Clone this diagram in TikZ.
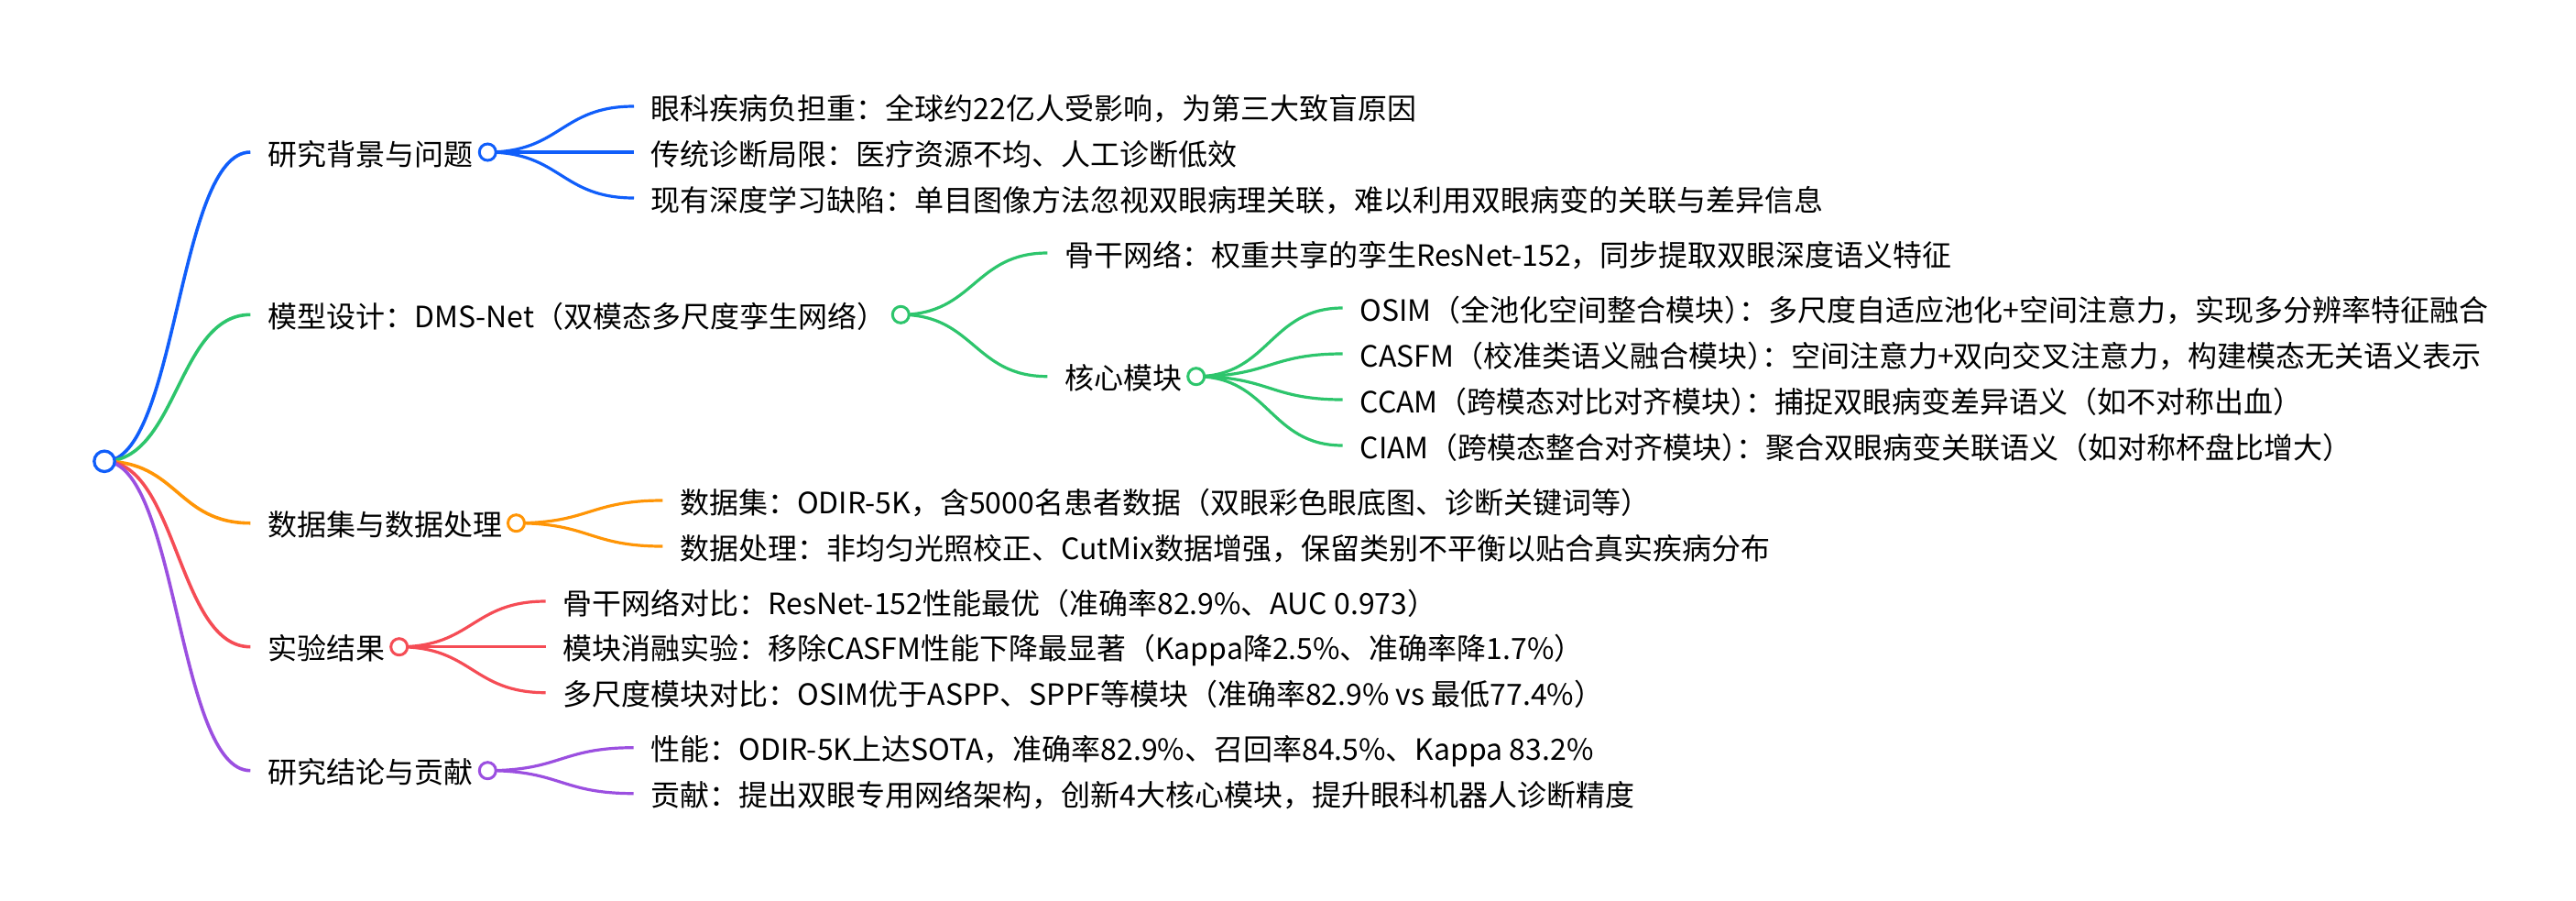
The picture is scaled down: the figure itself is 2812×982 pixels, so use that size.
\documentclass[tikz,border=0pt]{standalone}
\usepackage{fontspec}
\setmainfont{Noto Sans CJK SC}
\usetikzlibrary{calc,backgrounds}

\definecolor{cblue}{HTML}{105EFA}
\definecolor{cgreen}{HTML}{2DC56C}
\definecolor{corange}{HTML}{FF9506}
\definecolor{cred}{HTML}{F54C55}
\definecolor{cpurple}{HTML}{9B4FE0}

\newcommand{\pc}{）\kern-0.5em：}

\tikzset{
  topic/.style={anchor=west, inner xsep=9.25pt, inner ysep=0pt,
    text height=16pt, text depth=2pt, font=\fontsize{16pt}{19pt}\selectfont},
  knot/.style={circle, draw=#1, fill=white, line width=1.5pt,
    minimum size=9pt, inner sep=0pt},
  branch/.style={draw=#1, line width=1.6pt, to path={
    let \p1=(\tikztostart), \p2=(\tikztotarget) in
    .. controls ({(\x1+\x2)/2},\y1) and ({(\x1+\x2)/2},\y2) .. (\tikztotarget)}}
}

\begin{document}
\begin{tikzpicture}[x=0.5pt, y=-0.5pt]
    \useasboundingbox (0,0) rectangle (2812,982);

    \node[knot=cblue, minimum size=11.2pt, line width=1.65pt] (root) at (114,503.3) {};

    \node[topic] (bg) at (273.3,166) {研究背景与问题};
    \node[topic] (md) at (273.3,343.3) {模型设计：DMS-Net（双模态多尺度孪生网络）};
    \node[topic] (ds) at (273.3,570.7) {数据集与数据处理};
    \node[topic] (ex) at (273.3,705.7) {实验结果};
    \node[topic] (cc) at (273.3,840.7) {研究结论与贡献};

    \node[knot=cblue] (bgk) at (532.3,166) {};
    \node[knot=cgreen] (mdk) at (983.3,343.3) {};
    \node[knot=corange] (dsk) at (563.5,570.7) {};
    \node[knot=cred] (exk) at (435.7,705.7) {};
    \node[knot=cpurple] (cck) at (532.3,840.7) {};

    \node[topic] (bg1) at (692,116) {眼科疾病负担重：全球约22亿人受影响，为第三大致盲原因};
    \node[topic] (bg2) at (692,166) {传统诊断局限：医疗资源不均、人工诊断低效};
    \node[topic] (bg3) at (692,216) {现有深度学习缺陷：单目图像方法忽视双眼病理关联，难以利用双眼病变的关联与差异信息};

    \node[topic] (md1) at (1143.3,276) {骨干网络：权重共享的孪生ResNet-152，同步提取双眼深度语义特征};
    \node[topic] (md2) at (1143.3,410.7) {核心模块};
    \node[knot=cgreen] (md2k) at (1305.7,410.7) {};

    \node[topic] (core1) at (1465.7,336) {OSIM（全池化空间整合模块\pc 多尺度自适应池化+空间注意力，实现多分辨率特征融合};
    \node[topic] (core2) at (1465.7,386) {CASFM（校准类语义融合模块\pc 空间注意力+双向交叉注意力，构建模态无关语义表示};
    \node[topic] (core3) at (1465.7,436) {CCAM（跨模态对比对齐模块\pc 捕捉双眼病变差异语义（如不对称出血）};
    \node[topic] (core4) at (1465.7,486) {CIAM（跨模态整合对齐模块\pc 聚合双眼病变关联语义（如对称杯盘比增大）};

    \node[topic] (ds1) at (723.3,546) {数据集：ODIR-5K，含5000名患者数据（双眼彩色眼底图、诊断关键词等）};
    \node[topic] (ds2) at (723.3,596) {数据处理：非均匀光照校正、CutMix数据增强，保留类别不平衡以贴合真实疾病分布};

    \node[topic] (ex1) at (595.7,656) {骨干网络对比：ResNet-152性能最优（准确率82.9\%、AUC 0.973）};
    \node[topic] (ex2) at (595.7,705.7) {模块消融实验：移除CASFM性能下降最显著（Kappa降2.5\%、准确率降1.7\%）};
    \node[topic] (ex3) at (595.7,755.7) {多尺度模块对比：OSIM优于ASPP、SPPF等模块（准确率82.9\% vs 最低77.4\%）};

    \node[topic] (cc1) at (691.7,815.7) {性能：ODIR-5K上达SOTA，准确率82.9\%、召回率84.5\%、Kappa 83.2\%};
    \node[topic] (cc2) at (691.7,865.7) {贡献：提出双眼专用网络架构，创新4大核心模块，提升眼科机器人诊断精度};

    \begin{scope}[on background layer]
    \draw[branch=cblue, line width=1.8pt] (root.center) to (bg.west);
    \draw[branch=cgreen, line width=1.8pt] (root.center) to (md.west);
    \draw[branch=corange, line width=1.8pt] (root.center) to (ds.west);
    \draw[branch=cred, line width=1.8pt] (root.center) to (ex.west);
    \draw[branch=cpurple, line width=1.8pt] (root.center) to (cc.west);

    \draw[branch=cblue] (bgk.center) to (bg1.west);
    \draw[branch=cblue] (bgk.center) to (bg2.west);
    \draw[branch=cblue] (bgk.center) to (bg3.west);

    \draw[branch=cgreen] (mdk.center) to (md1.west);
    \draw[branch=cgreen] (mdk.center) to (md2.west);
    \draw[branch=cgreen] (md2k.center) to (core1.west);
    \draw[branch=cgreen] (md2k.center) to (core2.west);
    \draw[branch=cgreen] (md2k.center) to (core3.west);
    \draw[branch=cgreen] (md2k.center) to (core4.west);

    \draw[branch=corange] (dsk.center) to (ds1.west);
    \draw[branch=corange] (dsk.center) to (ds2.west);

    \draw[branch=cred] (exk.center) to (ex1.west);
    \draw[branch=cred] (exk.center) to (ex2.west);
    \draw[branch=cred] (exk.center) to (ex3.west);

    \draw[branch=cpurple] (cck.center) to (cc1.west);
    \draw[branch=cpurple] (cck.center) to (cc2.west);
    \end{scope}
\end{tikzpicture}
\end{document}
